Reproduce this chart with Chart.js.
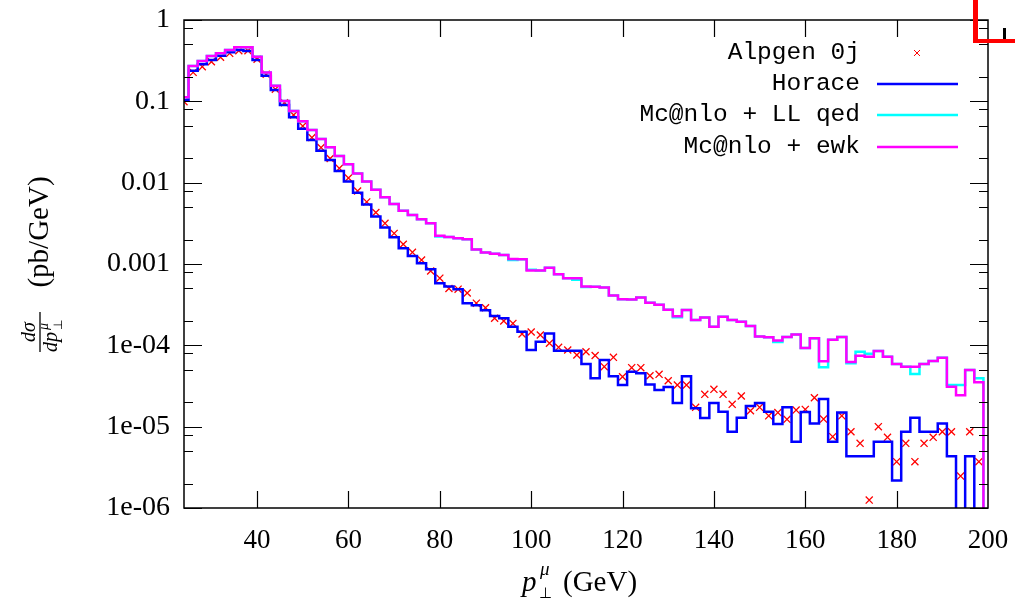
<!DOCTYPE html>
<html>
<head>
<meta charset="utf-8">
<title>Muon pT spectrum</title>
<script src="https://cdn.jsdelivr.net/npm/chart.js@4.4.0/dist/chart.umd.min.js"></script>
<style>
    html, body { margin: 0; padding: 0; background: #fff; }
    canvas { display: block; }
</style>
</head>
<body>
<canvas id="pt-chart" width="1015" height="600"></canvas>
<script>
// bin centres in GeV (2 GeV bins)
const pt_bins = [
    24, 26, 28, 30, 32, 34, 36, 38, 40, 42,
    44, 46, 48, 50, 52, 54, 56, 58, 60, 62,
    64, 66, 68, 70, 72, 74, 76, 78, 80, 82,
    84, 86, 88, 90, 92, 94, 96, 98, 100, 102,
    104, 106, 108, 110, 112, 114, 116, 118, 120, 122,
    124, 126, 128, 130, 132, 134, 136, 138, 140, 142,
    144, 146, 148, 150, 152, 154, 156, 158, 160, 162,
    164, 166, 168, 170, 172, 174, 176, 178, 180, 182,
    184, 186, 188, 190, 192, 194, 196, 198, 200
];

// dsigma/dpT in pb/GeV (0 = empty bin)
const alpgen_0j = [
    0.099, 0.227, 0.267, 0.307, 0.348, 0.389, 0.420, 0.420, 0.329, 0.215,
    0.141, 0.096, 0.068, 0.0496, 0.0358, 0.0270, 0.0198, 0.0150, 0.0114, 0.0079,
    0.0058, 0.0043, 0.00316, 0.00238, 0.00175, 0.00139, 0.00112, 0.00082, 0.00067, 0.00050,
    0.00049, 0.00044, 0.00033, 0.00029, 0.000215, 0.000199, 0.000186, 0.000138, 0.000146, 0.000134,
    0.000106, 0.0000945, 0.0000877, 0.0000760, 0.0000835, 0.0000750, 0.0000547, 0.0000712, 0.0000411, 0.0000531,
    0.0000531, 0.0000423, 0.0000440, 0.0000367, 0.0000325, 0.0000325, 0.0000173, 0.0000250, 0.0000288, 0.0000250,
    0.0000188, 0.0000238, 0.0000157, 0.0000173, 0.0000136, 0.0000149, 0.0000123, 0.0000160, 0.0000163, 0.0000227,
    0.0000124, 0.00000753, 0.0000136, 0.00000867, 0.00000624, 0.00000125, 0.0000100, 0.00000739, 0.00000371, 0.00000624,
    0.00000371, 0.00000624, 0.00000739, 0.00000867, 0.00000867, 0.00000247, 0.00000867, 0.00000371, null
];

const horace = [
    0.104, 0.238, 0.285, 0.322, 0.364, 0.400, 0.428, 0.416, 0.322, 0.207,
    0.138, 0.090, 0.0636, 0.0461, 0.0335, 0.0247, 0.0190, 0.0139, 0.0103, 0.00753,
    0.0054, 0.00385, 0.00282, 0.00213, 0.00156, 0.00125, 0.00102, 0.00086, 0.00058, 0.00053,
    0.00049, 0.00033, 0.00031, 0.00027, 0.00023, 0.000215, 0.000169, 0.000147, 0.0000877, 0.000111,
    0.000140, 0.0000859, 0.0000859, 0.0000859, 0.0000589, 0.0000393, 0.0000660, 0.0000416, 0.0000325, 0.0000474,
    0.0000453, 0.0000330, 0.0000282, 0.0000307, 0.0000195, 0.0000416, 0.0000169, 0.0000128, 0.0000195, 0.0000153,
    0.00000867, 0.0000129, 0.0000179, 0.0000195, 0.0000153, 0.0000108, 0.0000173, 0.00000653, 0.0000151, 0.0000109,
    0.0000219, 0.00000653, 0.0000149, 0.00000432, 0.00000432, 0.00000432, 0.00000653, 0.00000653, 0.00000218, 0.00000867,
    0.0000129, 0.00000867, 0.00000867, 0.0000109, 0.00000432, 0, 0.00000432, 0, 0
];

const mcnlo_ll_qed = [
    0.112, 0.272, 0.313, 0.361, 0.389, 0.428, 0.461, 0.461, 0.354, 0.227,
    0.155, 0.101, 0.076, 0.057, 0.0444, 0.0344, 0.0272, 0.0213, 0.0169, 0.0130,
    0.0103, 0.0082, 0.0066, 0.00547, 0.00453, 0.00400, 0.00354, 0.00316, 0.00218, 0.00215,
    0.00207, 0.00201, 0.00151, 0.00138, 0.00134, 0.00129, 0.00112, 0.00114, 0.00085, 0.00083,
    0.00090, 0.00075, 0.00067, 0.00064, 0.00052, 0.000526, 0.000514, 0.000410, 0.000369, 0.000366,
    0.000387, 0.000334, 0.000316, 0.000274, 0.000222, 0.000272, 0.000205, 0.000220, 0.000169, 0.000225,
    0.000205, 0.000195, 0.000173, 0.000128, 0.000126, 0.000110, 0.000127, 0.000136, 0.0000927, 0.000122,
    0.0000537, 0.000117, 0.000127, 0.0000601, 0.0000835, 0.0000790, 0.0000851, 0.0000724, 0.0000589, 0.0000546,
    0.0000444, 0.0000589, 0.0000642, 0.0000705, 0.0000325, 0.0000325, 0.0000498, 0.0000393, 0
];

const mcnlo_ewk = [
    0.112, 0.272, 0.313, 0.361, 0.389, 0.428, 0.461, 0.461, 0.354, 0.227,
    0.155, 0.101, 0.076, 0.057, 0.0444, 0.0344, 0.0272, 0.0213, 0.0169, 0.0130,
    0.0103, 0.0082, 0.0066, 0.00547, 0.00453, 0.00400, 0.00354, 0.00316, 0.00223, 0.00215,
    0.00207, 0.00201, 0.00151, 0.00138, 0.00134, 0.00129, 0.00115, 0.00114, 0.00083, 0.00083,
    0.00090, 0.00075, 0.00067, 0.00067, 0.00053, 0.000526, 0.000514, 0.000410, 0.000369, 0.000366,
    0.000387, 0.000334, 0.000316, 0.000274, 0.000228, 0.000272, 0.000205, 0.000220, 0.000169, 0.000225,
    0.000205, 0.000195, 0.000173, 0.000128, 0.000126, 0.000115, 0.000127, 0.000136, 0.0000927, 0.000122,
    0.0000636, 0.000117, 0.000127, 0.0000623, 0.0000745, 0.0000724, 0.0000851, 0.0000724, 0.0000589, 0.0000546,
    0.0000546, 0.0000589, 0.0000642, 0.0000705, 0.0000310, 0.0000243, 0.0000498, 0.0000351, 0
];

const series_labels = ["Alpgen 0j", "Horace", "Mc@nlo + LL qed", "Mc@nlo + ewk"];
const series_colours = ["#ff0000", "#0000ff", "#00ffff", "#ff00ff"];

const x_ticks = [40, 60, 80, 100, 120, 140, 160, 180, 200];
const y_ticks = [1e-6, 1e-5, 1e-4, 1e-3, 1e-2, 1e-1, 1];
const y_tick_labels = ["1e-06", "1e-05", "1e-04", "0.001", "0.01", "0.1", "1"];
const y_minor_steps = [2, 5, 8];

const serif = "'Liberation Serif', 'Times New Roman', serif";
const mono = "'Liberation Mono', 'Courier New', monospace";

// empty bins sit below the axis so the step drops through the bottom
function to_points(values) {
    const points = [];
    for (let i = 0; i < pt_bins.length; i ++) {
        if (values[i] === null) continue;
        points.push({x: pt_bins[i], y: values[i] > 0 ? values[i] : 1e-9});
    }
    return points;
}

function step_dataset(label, values, colour, order) {
    return {
        label: label,
        data: to_points(values),
        borderColor: colour,
        backgroundColor: colour,
        borderWidth: 2.5,
        stepped: "middle",
        pointRadius: 0,
        fill: false,
        order: order
    };
}

// frame, inward ticks, key and axis titles drawn gnuplot style
const gnuplot_look = {
    id: "gnuplotLook",
    afterDraw(chart) {
        const ctx = chart.ctx;
        const area = chart.chartArea;
        const xs = chart.scales.x;
        const ys = chart.scales.y;

        ctx.save();
        ctx.strokeStyle = "#000";
        ctx.lineWidth = 1.5;
        ctx.strokeRect(area.left, area.top, area.right - area.left, area.bottom - area.top);

        ctx.lineWidth = 1.2;
        ctx.beginPath();
        for (let i = 0; i < x_ticks.length - 1; i ++) {
            const px = Math.round(xs.getPixelForValue(x_ticks[i])) + 0.5;
            ctx.moveTo(px, area.bottom);
            ctx.lineTo(px, area.bottom - 17);
            ctx.moveTo(px, area.top);
            ctx.lineTo(px, area.top + 17);
        }
        for (let i = 0; i < y_ticks.length; i ++) {
            const py = Math.round(ys.getPixelForValue(y_ticks[i])) + 0.5;
            ctx.moveTo(area.left, py);
            ctx.lineTo(area.left + 18, py);
            ctx.moveTo(area.right, py);
            ctx.lineTo(area.right - 18, py);
            if (i === y_ticks.length - 1) continue;
            for (let j = 0; j < y_minor_steps.length; j ++) {
                const my = Math.round(ys.getPixelForValue(y_ticks[i] * y_minor_steps[j])) + 0.5;
                ctx.moveTo(area.left, my);
                ctx.lineTo(area.left + 9, my);
                ctx.moveTo(area.right, my);
                ctx.lineTo(area.right - 9, my);
            }
        }
        ctx.stroke();

        // key, top right
        const key_right = 860;
        const key_rows = [53, 84, 115, 147];
        ctx.font = "24.5px " + mono;
        ctx.textAlign = "right";
        ctx.textBaseline = "middle";
        ctx.fillStyle = "#000";
        for (let i = 0; i < series_labels.length; i ++) {
            ctx.fillText(series_labels[i], key_right, key_rows[i]);
            ctx.strokeStyle = series_colours[i];
            ctx.beginPath();
            if (i === 0) {
                ctx.lineWidth = 1;
                ctx.moveTo(914, key_rows[i] - 3);
                ctx.lineTo(920, key_rows[i] + 3);
                ctx.moveTo(920, key_rows[i] - 3);
                ctx.lineTo(914, key_rows[i] + 3);
            } else {
                ctx.lineWidth = 2.5;
                ctx.moveTo(877, key_rows[i]);
                ctx.lineTo(958, key_rows[i]);
            }
            ctx.stroke();
        }

        // x title: p_T^mu (GeV)
        ctx.fillStyle = "#000";
        ctx.textAlign = "left";
        ctx.textBaseline = "alphabetic";
        ctx.font = "italic 29px " + serif;
        ctx.fillText("p", 522, 591);
        ctx.font = "italic 19px " + serif;
        ctx.fillText("\u03bc", 540, 575);
        ctx.font = "15px " + serif;
        ctx.fillText("\u22a5", 539, 598);
        ctx.font = "29px " + serif;
        ctx.fillText("(GeV)", 563, 591);

        // y title: dsigma / dp_T^mu (pb/GeV), rotated
        ctx.save();
        ctx.translate(40, 264);
        ctx.rotate(-Math.PI / 2);
        ctx.textAlign = "center";
        ctx.font = "29px " + serif;
        ctx.textBaseline = "middle";
        ctx.fillText("(pb/GeV)", 32, 0);
        ctx.lineWidth = 1.3;
        ctx.strokeStyle = "#000";
        ctx.beginPath();
        ctx.moveTo(-88, 0);
        ctx.lineTo(-48, 0);
        ctx.stroke();
        ctx.textBaseline = "alphabetic";
        ctx.font = "italic 20px " + serif;
        ctx.fillText("d\u03c3", -68, -5);
        ctx.textAlign = "left";
        ctx.fillText("dp", -88, 17);
        ctx.font = "italic 14px " + serif;
        ctx.fillText("\u03bc", -66, 8);
        ctx.font = "12px " + serif;
        ctx.fillText("\u22a5", -66, 22);
        ctx.restore();

        // corner of the neighbouring panel
        ctx.fillStyle = "#ff0000";
        ctx.fillRect(973, 0, 5, 43);
        ctx.fillRect(973, 39, 42, 4);
        ctx.fillStyle = "#000";
        ctx.fillRect(1003, 28, 3, 11);

        ctx.restore();
    }
};

const chart_data = {
    datasets: [
        {
            label: series_labels[0],
            data: to_points(alpgen_0j),
            showLine: false,
            pointStyle: "crossRot",
            pointRadius: 5,
            pointBorderWidth: 1.3,
            borderColor: series_colours[0],
            backgroundColor: series_colours[0],
            order: 3
        },
        step_dataset(series_labels[1], horace, series_colours[1], 2),
        step_dataset(series_labels[2], mcnlo_ll_qed, series_colours[2], 1),
        step_dataset(series_labels[3], mcnlo_ewk, series_colours[3], 0)
    ]
};

const config = {
    type: "line",
    data: chart_data,
    options: {
        responsive: false,
        animation: false,
        devicePixelRatio: 1,
        layout: {
            padding: { left: 0, right: 27, top: 20, bottom: 0 }
        },
        plugins: {
            legend: { display: false },
            tooltip: { enabled: false }
        },
        scales: {
            x: {
                type: "linear",
                min: 24,
                max: 200,
                grid: { display: false, drawTicks: false },
                border: { display: false },
                afterBuildTicks: (scale) => {
                    scale.ticks = x_ticks.map(v => ({ value: v }));
                },
                afterFit: (scale) => {
                    scale.height = 92;
                    scale.paddingLeft = 0;
                    scale.paddingRight = 0;
                },
                ticks: {
                    autoSkip: false,
                    maxRotation: 0,
                    padding: 17,
                    color: "#000",
                    font: { family: serif, size: 27 },
                    callback: (value) => String(value)
                }
            },
            y: {
                type: "logarithmic",
                min: 1e-6,
                max: 1,
                grid: { display: false, drawTicks: false },
                border: { display: false },
                afterBuildTicks: (scale) => {
                    scale.ticks = y_ticks.map(v => ({ value: v }));
                },
                afterFit: (scale) => {
                    scale.width = 184;
                    scale.paddingTop = 0;
                    scale.paddingBottom = 0;
                },
                ticks: {
                    autoSkip: false,
                    padding: 14,
                    color: "#000",
                    font: { family: serif, size: 28 },
                    callback: (value, index) => y_tick_labels[index]
                }
            }
        }
    },
    plugins: [gnuplot_look]
};

const ctx = document.getElementById("pt-chart").getContext("2d");
const pt_chart = new Chart(ctx, config);
</script>
</body>
</html>
